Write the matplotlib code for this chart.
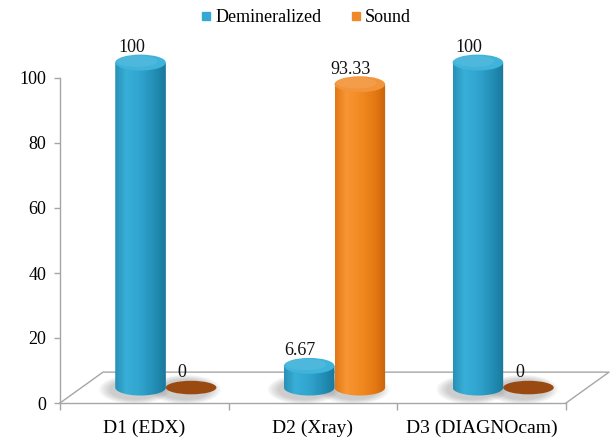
import numpy as np
import matplotlib
matplotlib.use("Agg")
import matplotlib.pyplot as plt
from matplotlib.colors import LinearSegmentedColormap
from matplotlib.patches import Ellipse, PathPatch
from matplotlib.path import Path
from matplotlib.lines import Line2D

plt.rcParams['font.family'] = ['Liberation Serif', 'DejaVu Serif']

# data
categories = ["D1 (EDX)", "D2 (Xray)", "D3 (DIAGNOcam)"]
series_names = ["Demineralized", "Sound"]
demineralized = [100, 6.67, 100]
sound = [0, 93.33, 0]
value_labels_dem = ["100", "6.67", "100"]
value_labels_sound = ["0", "93.33", "0"]
y_ticks = [0, 20, 40, 60, 80, 100]

# styling
body_cmaps = [
    LinearSegmentedColormap.from_list("blue_body", [
        (0.0, "#2890b6"), (0.22, "#38afd8"), (0.5, "#30a4ce"),
        (0.8, "#218cb3"), (1.0, "#1a779b")]),
    LinearSegmentedColormap.from_list("orange_body", [
        (0.0, "#e07814"), (0.22, "#f99534"), (0.5, "#f28a22"),
        (0.8, "#e37812"), (1.0, "#c8640b")]),
]
top_colors = ["#3fb3da", "#f2943a"]
legend_colors = ["#35a9d3", "#ee8a2a"]
zero_disc_color = "#9a4a10"
floor_color = "#a6a6a6"

fig = plt.figure(figsize=(6.12, 4.41), dpi=100)
ax = fig.add_axes([0, 0, 1, 1])

# floor depth (x in category units, y in value units)
dx, dy = 0.255, 9.5
half_w = 0.15      # cylinder radius in category units
ry = 2.45          # top ellipse half-height in value units

grad = np.linspace(0, 1, 256).reshape(1, -1)


def shadow(cx, y0):
    for k in range(6):
        s = 1.0 + 0.08 * k
        ax.add_patch(Ellipse((cx - 0.035, y0 - 0.6), 2 * half_w * s, 2 * ry * 1.3 * s,
                             facecolor="#505050", edgecolor="none", alpha=0.05,
                             zorder=2, clip_on=False))


def cylinder(cx, value, si, z):
    y0 = dy / 2
    y1 = value + dy / 2
    shadow(cx, y0)
    if value <= 0:
        ax.add_patch(Ellipse((cx, y0), 2 * half_w, 2 * ry * 0.85,
                             facecolor=zero_disc_color, edgecolor="none",
                             zorder=z, clip_on=False))
        return y0
    theta = np.linspace(np.pi, 2 * np.pi, 60)
    bottom = np.column_stack([cx + half_w * np.cos(theta), y0 + ry * np.sin(theta)])
    verts = np.vstack([[cx - half_w, y1], bottom, [cx + half_w, y1], [cx - half_w, y1]])
    codes = [Path.MOVETO] + [Path.LINETO] * (len(verts) - 2) + [Path.CLOSEPOLY]
    body = PathPatch(Path(verts, codes), facecolor="none", edgecolor="none",
                     zorder=z, clip_on=False)
    ax.add_patch(body)
    im = ax.imshow(grad, extent=[cx - half_w, cx + half_w, y0 - ry, y1],
                   aspect="auto", cmap=body_cmaps[si], origin="lower",
                   interpolation="bicubic", zorder=z)
    im.set_clip_path(body)
    ax.add_patch(Ellipse((cx, y1), 2 * half_w, 2 * ry,
                         facecolor=top_colors[si], edgecolor="none",
                         zorder=z + 0.1, clip_on=False))
    ax.add_patch(Ellipse((cx - 0.02, y1 + 0.4), 2 * half_w * 0.8, 2 * ry * 0.7,
                         facecolor="white", edgecolor="none", alpha=0.08,
                         zorder=z + 0.2, clip_on=False))
    return y1


# floor outline
n = len(categories)
ax.plot([0, dx, n + dx, n], [0, dy, dy, 0], color=floor_color, lw=1.0,
        zorder=1, clip_on=False)

for i, cat in enumerate(categories):
    base = i + 0.5 + dx / 2
    # orange first so the blue cylinder overlaps it
    for si, vals, labs in [(1, sound, value_labels_sound),
                           (0, demineralized, value_labels_dem)]:
        cx = base - half_w if si == 0 else base + half_w
        top = cylinder(cx, vals[i], si, 5 if si == 0 else 3)
        ax.annotate(labs[i], (cx, top), xytext=(-9, 15), textcoords="offset pixels",
                    ha="center", va="center", fontsize=13, color="#111111",
                    zorder=10, annotation_clip=False)

# axes
ax.set_xlim(-60 / 168.67, n + 46 / 168.67)
ax.set_ylim(-38 / 3.25, 100 + 78 / 3.25)
for side in ["top", "right"]:
    ax.spines[side].set_visible(False)
ax.spines["left"].set_position(("data", 0))
ax.spines["left"].set_bounds(0, 100)
ax.spines["bottom"].set_position(("data", 0))
ax.spines["bottom"].set_bounds(0, n)
for side in ["left", "bottom"]:
    ax.spines[side].set_color(floor_color)
    ax.spines[side].set_linewidth(1.0)

ax.set_yticks(y_ticks)
ax.set_yticklabels([str(t) for t in y_ticks])
ax.tick_params(axis="y", direction="out", length=4, width=1, color=floor_color,
               labelsize=13, pad=6)
ax.set_xticks(np.arange(n + 1))
ax.set_xticklabels([""] * (n + 1))
ax.set_xticks(np.arange(n) + 0.5, minor=True)
ax.set_xticklabels(categories, minor=True)
ax.tick_params(axis="x", which="major", direction="out", length=5, width=1,
               color=floor_color)
ax.tick_params(axis="x", which="minor", length=0, labelsize=14, pad=12)
ax.patch.set_visible(False)

handles = [Line2D([], [], marker="s", linestyle="none", markersize=6,
                  markerfacecolor=c, markeredgecolor=c) for c in legend_colors]
leg = ax.legend(handles, series_names, loc="center",
                bbox_to_anchor=(0.5, 1 - 18 / 441), bbox_transform=fig.transFigure,
                ncol=2, frameon=False, fontsize=13, handlelength=0.6,
                handletextpad=0.2, columnspacing=1.6)
for t in leg.get_texts():
    t.set_fontfamily(['Liberation Serif', 'DejaVu Serif'])

fig.savefig("out.png", dpi=100)
